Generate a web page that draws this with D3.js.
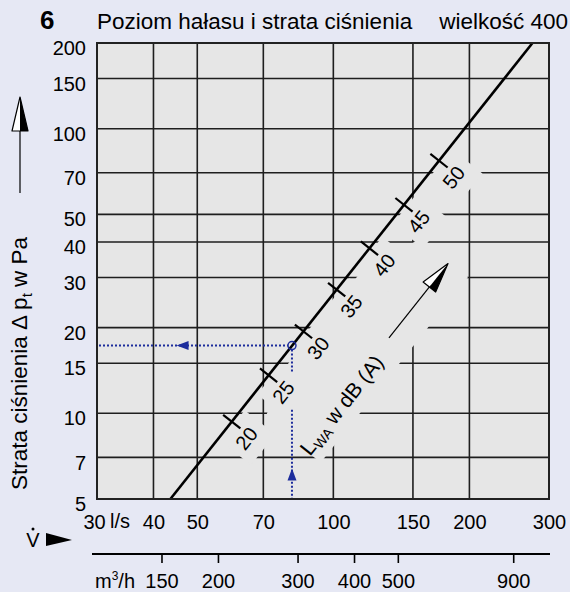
<!DOCTYPE html>
<html>
<head>
<meta charset="utf-8">
<script src="https://cdn.jsdelivr.net/npm/d3@7"></script>
<style>
body { margin: 0; background: #e6e8f4; }
svg { display: block; font-family: "Liberation Sans", Arial, sans-serif; }
</style>
</head>
<body>
<svg id="chart" width="570" height="592"></svg>
<script>
// pressure loss (Pa) axis
var pTicks = [5, 7, 10, 15, 20, 30, 40, 50, 70, 100, 150, 200];
var pGrid = [7, 10, 15, 20, 30, 40, 50, 70, 100, 150];
// flow (l/s) axis
var vTicks = [30, 40, 50, 70, 100, 150, 200, 300];
var vGrid = [40, 50, 70, 100, 150, 200];
// flow (m3/h) axis
var m3hTicks = [150, 200, 300, 400, 500, 900];

// characteristic line (end points)
var lineV = [43.6, 275.8];
var lineP = [5, 200];

// sound power marks on the line
var levels = [20, 25, 30, 35, 40, 45, 50];
var levelV = [59.6, 71.9, 85.9, 101.7, 120.2, 143.3, 171.3];
var levelP = [9.35, 13.6, 19.4, 27.2, 38.0, 54.0, 77.2];

// example operating point
var opV = 81, opP = 17.3;
var opGapP = [13.9, 10.3];
var opArrowV = 45, opArrowP = 6.4;

var plotFill = '#e6e6e6';
var gridColor = '#1e1e1e';
var blue = '#1d2d9c';

var svg = d3.select('#chart');
var x = d3.scaleLog().domain([30, 300]).range([97, 549]);
var y = d3.scaleLog().domain([5, 200]).range([499, 43]);
var xm = d3.scaleLog().domain([30 * 3.6, 300 * 3.6]).range([97, 549]);

// title
svg.append('text').attr('x', 40).attr('y', 29)
    .style('font-size', '26px').style('font-weight', 'bold').text('6');
svg.append('text').attr('x', 97).attr('y', 29)
    .style('font-size', '22.5px').text('Poziom hałasu i strata ciśnienia');
svg.append('text').attr('x', 568).attr('y', 29).attr('text-anchor', 'end')
    .style('font-size', '22.5px').text('wielkość 400');

var plot = svg.append('g');
plot.append('rect')
    .attr('x', x(30)).attr('y', y(200))
    .attr('width', x(300) - x(30)).attr('height', y(5) - y(200))
    .style('fill', plotFill);

plot.selectAll('line.gx').data(vGrid).enter().append('line')
    .attr('class', 'gx')
    .attr('x1', function(d) { return x(d); }).attr('x2', function(d) { return x(d); })
    .attr('y1', y(200)).attr('y2', y(5))
    .style('stroke', gridColor).style('stroke-width', 1.6);
plot.selectAll('line.gy').data(pGrid).enter().append('line')
    .attr('class', 'gy')
    .attr('y1', function(d) { return y(d); }).attr('y2', function(d) { return y(d); })
    .attr('x1', x(30)).attr('x2', x(300))
    .style('stroke', gridColor).style('stroke-width', 1.6);

// line geometry
var x0 = x(lineV[0]), y0 = y(lineP[0]), x1 = x(lineV[1]), y1 = y(lineP[1]);
var angle = Math.atan2(y1 - y0, x1 - x0) * 180 / Math.PI;
var rot = function(v, p) {
    return 'translate(' + x(v) + ',' + y(p) + ') rotate(' + angle + ')';
};

// knock-outs behind the labels
var label = plot.append('g').attr('transform', rot(levelV[2], levelP[2]));
label.append('polygon')
    .attr('points', '-92,24 -40,8 100,8 145,35 145,95 -92,95')
    .style('fill', plotFill);
var marks = plot.selectAll('g.mark').data(levels).enter().append('g')
    .attr('class', 'mark')
    .attr('transform', function(d, i) { return rot(levelV[i], levelP[i]); });
marks.append('rect')
    .attr('x', -22).attr('y', 3).attr('width', 39).attr('height', 39)
    .style('fill', plotFill);

// characteristic line
plot.append('line')
    .attr('x1', x0).attr('y1', y0).attr('x2', x1).attr('y2', y1)
    .style('stroke', '#000').style('stroke-width', 2.6);
marks.append('line')
    .attr('x1', 0).attr('y1', -11).attr('x2', 0).attr('y2', 11)
    .style('stroke', '#000').style('stroke-width', 2.2);
marks.append('text')
    .attr('x', -4).attr('y', 29).attr('text-anchor', 'middle')
    .style('font-size', '20px')
    .text(function(d) { return d; });

// L_WA label and arrow
var lt = label.append('text')
    .attr('x', -34).attr('y', 83).attr('text-anchor', 'middle')
    .style('font-size', '21px');
lt.append('tspan').text('L');
lt.append('tspan').attr('dy', 4).style('font-size', '14px').text('WA');
lt.append('tspan').attr('dy', -4).text(' w dB (A)');

function arrow(g, len, head, w) {
    g.append('line').attr('x1', 0).attr('y1', 0).attr('x2', len - head + 2).attr('y2', 0)
        .style('stroke', '#000').style('stroke-width', 1.2);
    g.append('path')
        .attr('d', 'M' + (len - head) + ',' + (-w) + 'L' + len + ',0L' + (len - head) + ',0Z')
        .style('fill', '#fff');
    g.append('path')
        .attr('d', 'M' + (len - head) + ',0L' + len + ',0L' + (len - head) + ',' + w + 'Z')
        .style('fill', '#000');
    g.append('path')
        .attr('d', 'M' + (len - head) + ',' + (-w) + 'L' + len + ',0L' + (len - head) + ',' + w + 'Z')
        .style('fill', 'none').style('stroke', '#000').style('stroke-width', 1.2)
        .style('stroke-linejoin', 'round');
}
arrow(label.append('g').attr('transform', 'translate(48,71)'), 95, 30, 8);

// operating point
plot.append('line')
    .attr('x1', x(30) + 2).attr('x2', x(opV) - 4)
    .attr('y1', y(opP)).attr('y2', y(opP))
    .style('stroke', blue).style('stroke-width', 2).style('stroke-dasharray', '2,2');
plot.append('line')
    .attr('x1', x(opV)).attr('x2', x(opV))
    .attr('y1', y(opP) + 4).attr('y2', y(opGapP[0]))
    .style('stroke', blue).style('stroke-width', 2).style('stroke-dasharray', '2,2');
plot.append('line')
    .attr('x1', x(opV)).attr('x2', x(opV))
    .attr('y1', y(opGapP[1])).attr('y2', y(5))
    .style('stroke', blue).style('stroke-width', 2).style('stroke-dasharray', '2,2');
plot.append('path')
    .attr('d', 'M' + x(opArrowV) + ',' + y(opP) + 'l12,-4.5v9Z')
    .style('fill', blue);
plot.append('path')
    .attr('d', 'M' + x(opV) + ',' + y(opArrowP) + 'l-4.5,12h9Z')
    .style('fill', blue);
plot.append('circle')
    .attr('cx', x(opV)).attr('cy', y(opP)).attr('r', 4)
    .style('fill', 'none').style('stroke', blue).style('stroke-width', 1.5);

// frame
plot.append('rect')
    .attr('x', x(30)).attr('y', y(200))
    .attr('width', x(300) - x(30)).attr('height', y(5) - y(200))
    .style('fill', 'none').style('stroke', '#222').style('stroke-width', 2);

// y axis labels
var yAxis = d3.axisLeft(y).tickValues(pTicks).tickSize(0).tickPadding(11)
    .tickFormat(d3.format('d'));
var gy = svg.append('g').attr('transform', 'translate(' + x(30) + ',0)').call(yAxis);
gy.select('.domain').remove();
gy.selectAll('text').attr('dy', '0.58em').style('font-size', '20px')
    .style('font-family', '"Liberation Sans", Arial, sans-serif').style('fill', '#000');

// l/s axis labels
var xAxis = d3.axisBottom(x).tickValues(vTicks).tickSize(0).tickPadding(16)
    .tickFormat(d3.format('d'));
var gx = svg.append('g').attr('transform', 'translate(0,' + y(5) + ')').call(xAxis);
gx.select('.domain').remove();
gx.selectAll('text').style('font-size', '20px')
    .style('font-family', '"Liberation Sans", Arial, sans-serif').style('fill', '#000');
gx.selectAll('.tick').filter(function(d) { return d === 30; }).select('text').attr('x', -3);
svg.append('text').attr('x', 110).attr('y', 528).style('font-size', '20px').text('l/s');

// m3/h axis
var mAxis = d3.axisBottom(xm).tickValues(m3hTicks).tickSizeInner(9).tickSizeOuter(0)
    .tickPadding(11).tickFormat(d3.format('d'));
var gm = svg.append('g').attr('transform', 'translate(0,554)').call(mAxis);
gm.select('.domain').remove();
gm.selectAll('line').style('stroke', '#000').style('stroke-width', 1.6);
gm.selectAll('text').style('font-size', '20px')
    .style('font-family', '"Liberation Sans", Arial, sans-serif').style('fill', '#000');
svg.append('line').attr('x1', 92).attr('x2', 550).attr('y1', 554).attr('y2', 554)
    .style('stroke', '#000').style('stroke-width', 2.2);
var mt = svg.append('text').attr('x', 95).attr('y', 588).style('font-size', '20px');
mt.append('tspan').text('m');
mt.append('tspan').attr('dy', -8).style('font-size', '12px').text('3');
mt.append('tspan').attr('dy', 8).text('/h');

// V dot symbol
svg.append('text').attr('x', 33).attr('y', 547).attr('text-anchor', 'middle')
    .style('font-size', '20px').text('V');
svg.append('circle').attr('cx', 33).attr('cy', 529).attr('r', 1.5).style('fill', '#000');
svg.append('path').attr('d', 'M46,533L72,540L46,546Z').style('fill', '#000');

// y title and arrow
var yt = svg.append('text')
    .attr('transform', 'translate(27,490) rotate(-90)')
    .style('font-size', '22.5px');
yt.append('tspan').text('Strata ciśnienia Δ p');
yt.append('tspan').attr('dy', 5).style('font-size', '15px').text('t');
yt.append('tspan').attr('dy', -5).text(' w Pa');
arrow(svg.append('g').attr('transform', 'translate(20,193) rotate(-90)'), 96, 34, 8);
</script>
</body>
</html>
